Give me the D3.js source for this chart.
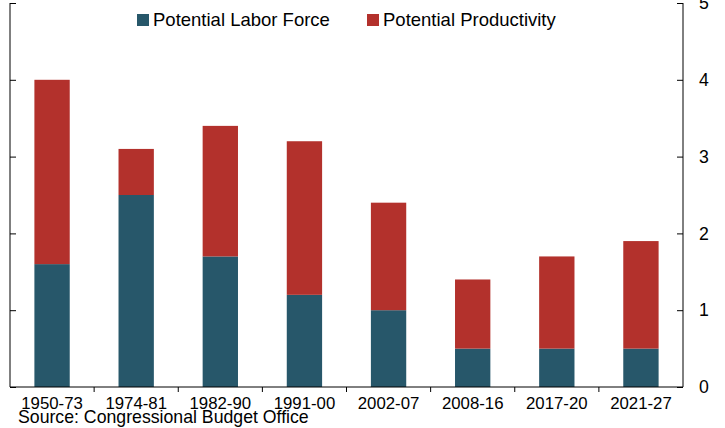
<!DOCTYPE html>
<html><head><meta charset="utf-8">
<script src="https://cdn.jsdelivr.net/npm/d3@7"></script>
<style>body{margin:0;background:#fff}svg{display:block}text{font-family:"Liberation Sans",Arial,sans-serif;fill:#000}</style>
</head><body>
<script>
const categories = ["1950-73","1974-81","1982-90","1991-00","2002-07","2008-16","2017-20","2021-27"];
const laborForce = [1.6,2.5,1.7,1.2,1.0,0.5,0.5,0.5];
const productivity = [2.4,0.6,1.7,2.0,1.4,0.9,1.2,1.4];
const seriesNames = ["Potential Labor Force","Potential Productivity"];
const colors = ["#27576a","#b3312c"];
const yTicks = [0,1,2,3,4,5];
const source = "Source: Congressional Budget Office";

const W=725,H=428, L=10, R=683, T=3, B=387;
const svg=d3.select("body").append("svg").attr("width",W).attr("height",H);
const x=d3.scaleBand().domain(categories).range([L,R]).paddingInner(0.58).paddingOuter(0.29);
const y=d3.scaleLinear().domain([0,5]).range([B,T]);

const data=categories.map((c,i)=>({cat:c,lf:laborForce[i],pr:productivity[i]}));
const stack=d3.stack().keys(["lf","pr"])(data);
svg.selectAll("g.s").data(stack).join("g").attr("fill",(d,i)=>colors[i])
  .selectAll("rect").data(d=>d).join("rect")
  .attr("x",d=>x(d.data.cat)).attr("width",x.bandwidth())
  .attr("y",d=>y(d[1])).attr("height",d=>y(d[0])-y(d[1]));

// right axis with labels
const ra=svg.append("g").attr("transform",`translate(${R},0)`)
  .call(d3.axisRight(y).tickValues(yTicks).tickFormat(d3.format("d")).tickSize(-6).tickPadding(16));
ra.select(".domain").attr("d",`M0,${T}V${B}`);
ra.selectAll("text").style("font-size","17.7px").attr("font-family","Liberation Sans, Arial");
ra.selectAll("line").attr("stroke","#000");
// left axis no labels
const la=svg.append("g").attr("transform",`translate(${L},0)`)
  .call(d3.axisLeft(y).tickValues(yTicks).tickSize(-6).tickFormat(""));
la.select(".domain").attr("d",`M0,${T}V${B}`);
// bottom axis
const step=x.step();
const bTicks=categories.slice(1).map(c=>x(c)-(step-x.bandwidth())/2);
svg.append("line").attr("x1",L).attr("x2",R).attr("y1",B).attr("y2",B).attr("stroke","#000");
svg.selectAll("line.bt").data(bTicks).join("line").attr("class","bt")
  .attr("x1",d=>d).attr("x2",d=>d).attr("y1",B).attr("y2",B+5).attr("stroke","#000");
svg.selectAll("text.xl").data(categories).join("text").attr("class","xl")
  .attr("x",d=>x(d)+x.bandwidth()/2).attr("y",409).attr("text-anchor","middle")
  .style("font-size","16.8px").text(d=>d);
svg.append("text").attr("x",18).attr("y",423).style("font-size","17.7px").text(source);

// legend
const lx=[137,367];
seriesNames.forEach((n,i)=>{
  svg.append("rect").attr("x",lx[i]).attr("y",14).attr("width",12).attr("height",12).attr("fill",colors[i]);
  svg.append("text").attr("x",lx[i]+16).attr("y",26).style("font-size","18.5px").text(n);
});
</script>
</body></html>
